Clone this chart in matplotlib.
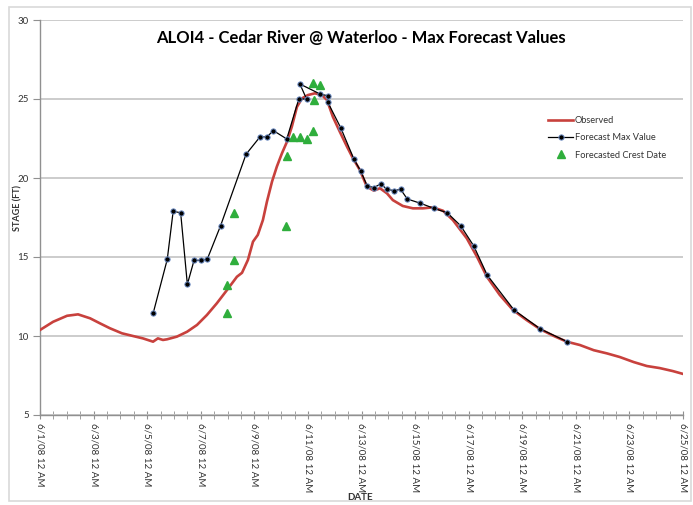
import matplotlib
matplotlib.use('Agg')
import matplotlib.pyplot as plt
from matplotlib.ticker import MultipleLocator, FixedLocator
from matplotlib.patches import Rectangle

plt.rcParams['font.family'] = ['Lato', 'DejaVu Sans']

# Observed stage (days since 6/1/08 12 AM, feet)
obs_day = [0.0, 0.49, 1.01, 1.42, 1.87, 2.24, 2.61, 3.06, 3.47, 3.84, 4.22, 4.40,
           4.59, 4.74, 5.11, 5.49, 5.86, 6.23, 6.60, 6.98, 7.35, 7.54, 7.76, 7.95,
           8.13, 8.32, 8.47, 8.66, 8.84, 9.03, 9.22, 9.40, 9.59, 9.78, 10.0, 10.26,
           10.52, 10.71, 10.93, 11.19, 11.46, 11.68, 11.94, 12.2, 12.46, 12.69, 12.95,
           13.17, 13.54, 13.92, 14.29, 14.66, 15.04, 15.41, 15.93, 16.31, 16.68, 17.16,
           17.65, 18.17, 18.66, 19.18, 19.66, 20.15, 20.67, 21.16, 21.64, 22.16, 22.65,
           23.13, 23.62, 24.0]
obs_stage = [10.38, 10.9, 11.28, 11.37, 11.12, 10.8, 10.49, 10.17, 10.0, 9.85, 9.64, 9.85,
             9.75, 9.79, 9.96, 10.27, 10.7, 11.33, 12.07, 12.91, 13.75, 14.0, 14.81, 15.97,
             16.4, 17.34, 18.5, 19.77, 20.72, 21.56, 22.3, 23.25, 24.5, 25.04, 25.25, 25.36,
             25.25, 24.94, 23.88, 22.93, 21.98, 21.25, 20.5, 19.45, 19.2, 19.35, 19.03,
             18.6, 18.23, 18.08, 18.08, 18.14, 17.93, 17.34, 16.18, 15.02, 13.75, 12.6,
             11.65, 11.0, 10.44, 10.0, 9.64, 9.43, 9.1, 8.9, 8.67, 8.35, 8.1,
             7.97, 7.78, 7.6]

# Forecast max values
fc_day = [4.23, 4.75, 4.97, 5.25, 5.50, 5.75, 6.00, 6.24, 6.74, 7.69, 8.21, 8.47, 8.71,
          9.21, 9.66, 9.95, 9.70, 10.45, 10.74, 10.74, 11.23, 11.72, 11.97, 12.21, 12.46,
          12.71, 12.96, 13.21, 13.46, 13.71, 14.2, 14.7, 15.2, 15.7, 16.19, 16.69, 17.69,
          18.68, 19.68]
fc_stage = [11.48, 14.85, 17.89, 17.8, 13.27, 14.79, 14.79, 14.85, 16.98, 21.5, 22.6, 22.6,
            23.0, 22.47, 25.0, 25.0, 25.95, 25.32, 25.2, 24.8, 23.16, 21.18, 20.44, 19.51,
            19.39, 19.62, 19.28, 19.2, 19.28, 18.67, 18.4, 18.08, 17.8, 16.98, 15.7, 13.86,
            11.65, 10.44, 9.64]

# Forecasted crest dates
crest_day = [6.97, 6.97, 7.24, 7.24, 9.2, 9.23, 9.45, 9.7, 9.95, 10.2, 10.2, 10.45, 10.22]
crest_stage = [11.44, 13.2, 14.8, 17.8, 16.96, 21.4, 22.6, 22.6, 22.47, 22.97, 25.99, 25.89, 24.94]

x_tick_days = [0, 2, 4, 6, 8, 10, 12, 14, 16, 18, 20, 22, 24]
x_tick_labels = ['6/1/08 12 AM', '6/3/08 12 AM', '6/5/08 12 AM', '6/7/08 12 AM',
                 '6/9/08 12 AM', '6/11/08 12 AM', '6/13/08 12 AM', '6/15/08 12 AM',
                 '6/17/08 12 AM', '6/19/08 12 AM', '6/21/08 12 AM', '6/23/08 12 AM',
                 '6/25/08 12 AM']
y_ticks = [5, 10, 15, 20, 25, 30]

fig = plt.figure(figsize=(6.93, 5.05), dpi=100)
fig.patches.append(Rectangle((9 / 693, 4 / 505), 682 / 693, 494 / 505, transform=fig.transFigure,
                             fill=False, edgecolor='#D9D9D9', linewidth=1.2))
ax = fig.add_axes([40 / 693, 90 / 505, 643 / 693, 395 / 505])

ax.plot(obs_day, obs_stage, color='#C8413D', linewidth=1.9, label='Observed', zorder=3)
ax.plot(fc_day, fc_stage, color='black', linewidth=0.9, marker='o', markersize=3.8,
        markerfacecolor='black', markeredgecolor='#6F8FC8', markeredgewidth=0.7,
        label='Forecast Max Value', zorder=4)
ax.plot(crest_day, crest_stage, linestyle='none', marker='^', markersize=6,
        color='#2FAE3C', markeredgecolor='#2FAE3C', label='Forecasted Crest Date', zorder=5)

ax.set_xlim(0, 24)
ax.set_ylim(5, 30)
ax.set_yticks(y_ticks)
ax.xaxis.set_major_locator(FixedLocator(x_tick_days))
ax.set_xticklabels(x_tick_labels, rotation=-90, fontsize=7.0, color='#333333')
ax.xaxis.set_minor_locator(MultipleLocator(0.5))
ax.tick_params(axis='x', which='both', direction='inout', length=6, color='#909090', pad=3)
ax.tick_params(axis='y', direction='out', length=5, color='#909090', labelsize=7,
               labelcolor='#333333', pad=3)
ax.grid(axis='y', color='#C8C8C8', linewidth=1.3)
ax.set_axisbelow(True)
for s in ['top', 'right']:
    ax.spines[s].set_visible(False)
for s in ['left', 'bottom']:
    ax.spines[s].set_color('#909090')
    ax.spines[s].set_linewidth(1.0)

fig.text(361 / 693, 1 - 38 / 505, 'ALOI4 - Cedar River @ Waterloo - Max Forecast Values',
         ha='center', va='center', fontsize=12, fontweight='bold')
fig.text(360 / 693, 1 - 498 / 505, 'DATE', ha='center', va='center', fontsize=7,
         fontweight='bold', color='#333333')
fig.text(18 / 693, 1 - 208 / 505, 'STAGE (FT)', ha='center', va='center', rotation=90,
         fontsize=6.5, fontweight='bold', color='#333333')

leg = ax.legend(loc='upper left', bbox_to_anchor=((548 - 40) / 643, (415 - 116) / 395),
                frameon=False, fontsize=6.7, handlelength=2.7, handletextpad=0.2,
                borderpad=0, borderaxespad=0, labelspacing=0.9)
for t in leg.get_texts():
    t.set_color('#333333')

fig.savefig('out.png', dpi=100)
